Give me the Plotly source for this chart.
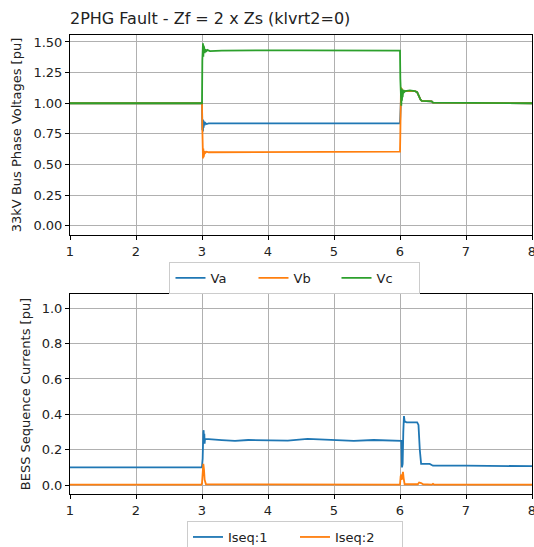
import plotly.graph_objects as go

# ---- Top panel: 33kV bus phase voltages ----
va_t = [1.0, 2.995, 3.0, 3.005, 3.01, 3.015, 3.02, 3.025, 3.03, 3.04, 3.05, 3.07, 3.1, 4.5, 6.0,
        6.005, 6.01, 6.02, 6.05, 6.08, 6.15, 6.22, 6.26, 6.29, 6.31, 6.33, 6.45, 6.48, 6.5, 8.0]
va_v = [1.0, 1.0, 1.0, 0.78, 0.87, 0.77, 0.86, 0.80, 0.85, 0.82, 0.84, 0.83, 0.835, 0.836, 0.835,
        0.90, 1.05, 1.10, 1.10, 1.10, 1.105, 1.10, 1.09, 1.05, 1.03, 1.02, 1.02, 1.015, 1.005, 1.0]

vb_t = [1.0, 2.995, 3.0, 3.005, 3.01, 3.015, 3.02, 3.025, 3.03, 3.035, 3.04, 3.05, 3.07, 3.1, 4.5, 6.0,
        6.005, 6.01, 6.015, 6.02, 6.03, 6.04, 6.06, 6.08, 6.15, 6.22, 6.26, 6.29, 6.31, 6.33, 6.45, 6.48, 6.5, 8.0]
vb_v = [1.0, 1.0, 1.0, 0.80, 0.65, 0.55, 0.63, 0.56, 0.61, 0.58, 0.61, 0.595, 0.605, 0.60, 0.602, 0.605,
        0.75, 1.0, 1.13, 1.05, 1.12, 1.08, 1.10, 1.10, 1.105, 1.10, 1.09, 1.05, 1.03, 1.02, 1.02, 1.015, 1.005, 1.0]

vc_t = [1.0, 2.995, 3.0, 3.005, 3.01, 3.015, 3.02, 3.025, 3.03, 3.035, 3.04, 3.05, 3.06, 3.08, 3.12, 3.3, 4.5, 6.0,
        6.005, 6.01, 6.015, 6.02, 6.025, 6.03, 6.035, 6.04, 6.05, 6.06, 6.08, 6.15, 6.22, 6.26, 6.29, 6.31, 6.33,
        6.45, 6.48, 6.5, 8.0]
vc_v = [1.0, 1.0, 1.0, 1.35, 1.40, 1.49, 1.38, 1.47, 1.40, 1.45, 1.41, 1.44, 1.42, 1.435, 1.425, 1.43, 1.432, 1.43,
        1.20, 1.0, 1.12, 0.98, 1.12, 1.02, 1.10, 1.05, 1.11, 1.09, 1.10, 1.105, 1.10, 1.09, 1.05, 1.03, 1.02,
        1.02, 1.015, 1.005, 1.0]

# ---- Bottom panel: BESS sequence currents ----
i1_t = [1.0, 2.99, 3.0, 3.01, 3.02, 3.025, 3.03, 3.035, 3.04, 3.045, 3.1, 3.3, 3.5, 3.7, 4.0, 4.3, 4.6, 5.0,
        5.3, 5.6, 5.9, 6.0, 6.02, 6.03, 6.04, 6.05, 6.06, 6.07, 6.1, 6.26, 6.28, 6.3, 6.32, 6.45, 6.47, 6.5, 7.0, 8.0]
i1_v = [0.10, 0.10, 0.105, 0.15, 0.30, 0.31, 0.24, 0.29, 0.235, 0.26, 0.26, 0.255, 0.25, 0.255, 0.253, 0.252,
        0.262, 0.256, 0.25, 0.255, 0.252, 0.252, 0.25, 0.10, 0.12, 0.30, 0.39, 0.36, 0.355, 0.355, 0.34, 0.20,
        0.12, 0.12, 0.115, 0.11, 0.11, 0.107]

i2_t = [1.0, 2.99, 3.0, 3.01, 3.02, 3.03, 3.04, 3.06, 6.0, 6.01, 6.02, 6.025, 6.035, 6.045, 6.055, 6.07,
        6.27, 6.29, 6.32, 6.35, 6.48, 6.5, 6.52, 8.0]
i2_v = [0.003, 0.003, 0.01, 0.08, 0.12, 0.09, 0.03, 0.005, 0.003, 0.05, 0.06, 0.03, 0.07, 0.075, 0.04, 0.005,
        0.005, 0.015, 0.012, 0.005, 0.003, 0.008, 0.003, 0.003]

x_ticks = [1, 2, 3, 4, 5, 6, 7, 8]
top_yticks = [0.0, 0.25, 0.5, 0.75, 1.0, 1.25, 1.5]
bot_yticks = [0.0, 0.2, 0.4, 0.6, 0.8, 1.0]

C1, C2, C3 = "#1f77b4", "#ff7f0e", "#2ca02c"
FONT = "DejaVu Sans"

fig = go.Figure()
fig.add_trace(go.Scatter(x=va_t, y=va_v, name="Va", mode="lines", line=dict(color=C1, width=1.8),
                         xaxis="x", yaxis="y", legend="legend"))
fig.add_trace(go.Scatter(x=vb_t, y=vb_v, name="Vb", mode="lines", line=dict(color=C2, width=1.8),
                         xaxis="x", yaxis="y", legend="legend"))
fig.add_trace(go.Scatter(x=vc_t, y=vc_v, name="Vc", mode="lines", line=dict(color=C3, width=1.8),
                         xaxis="x", yaxis="y", legend="legend"))
fig.add_trace(go.Scatter(x=i1_t, y=i1_v, name="Iseq:1", mode="lines", line=dict(color=C1, width=1.8),
                         xaxis="x2", yaxis="y2", legend="legend2"))
fig.add_trace(go.Scatter(x=i2_t, y=i2_v, name="Iseq:2", mode="lines", line=dict(color=C2, width=1.8),
                         xaxis="x2", yaxis="y2", legend="legend2"))

axis_common = dict(showline=True, linecolor="black", linewidth=1, mirror=True, automargin=False,
                   showgrid=True, gridcolor="#b0b0b0", gridwidth=0.8, zeroline=False,
                   ticks="outside", ticklen=4, tickcolor="black", ticklabeloverflow="allow",
                   tickfont=dict(family=FONT, size=13, color="#222"))

fig.update_layout(
    width=534, height=547,
    margin=dict(l=70, r=2, t=35, b=53, autoexpand=False),
    plot_bgcolor="white", paper_bgcolor="white",
    font=dict(family=FONT, size=13, color="#222"),
    title=dict(text="2PHG Fault - Zf = 2 x Zs (klvrt2=0)", x=70 / 534, xanchor="left",
               y=1 - 18 / 547, yanchor="middle", font=dict(family=FONT, size=16, color="#222")),
    xaxis=dict(domain=[0, 1], range=[1, 8], tickvals=x_ticks, anchor="y", **axis_common),
    yaxis=dict(domain=[0.5643, 1.0], range=[-0.075, 1.557], tickvals=top_yticks,
               tickformat=".2f", anchor="x",
               title=dict(text="33kV Bus Phase Voltages [pu]", font=dict(family=FONT, size=13), standoff=8),
               **axis_common),
    xaxis2=dict(domain=[0, 1], range=[1, 8], tickvals=x_ticks, anchor="y2", **axis_common),
    yaxis2=dict(domain=[0.0, 0.4357], range=[-0.05, 1.08], tickvals=bot_yticks,
                tickformat=".1f", anchor="x2",
                title=dict(text="BESS Sequence Currents [pu]", font=dict(family=FONT, size=13), standoff=8),
                **axis_common),
    legend=dict(orientation="h", x=0.487, xanchor="center", y=0.4706, yanchor="middle",
                bordercolor="#cccccc", borderwidth=1, bgcolor="white",
                font=dict(family=FONT, size=13), itemwidth=30, entrywidth=38),
    legend2=dict(orientation="h", x=0.487, xanchor="center", y=-0.0937, yanchor="middle",
                 bordercolor="#cccccc", borderwidth=1, bgcolor="white",
                 font=dict(family=FONT, size=13), itemwidth=30, entrywidth=62),
)

fig.write_html("out.html", config={"displayModeBar": False},
               post_script="document.body.style.margin='0';document.body.style.overflow='hidden';")
